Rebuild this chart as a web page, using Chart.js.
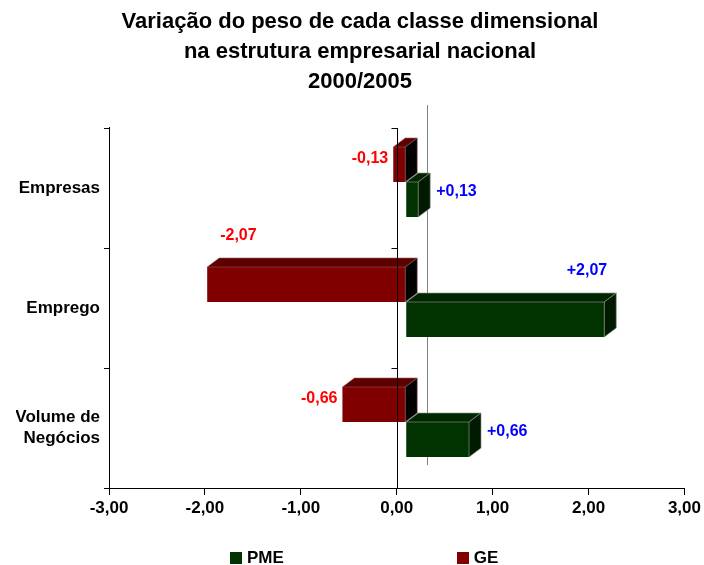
<!DOCTYPE html>
<html>
<head>
<meta charset="utf-8">
<script src="https://cdn.jsdelivr.net/npm/chart.js@4.4.1/dist/chart.umd.min.js"></script>
<style>
  body { margin: 0; background: #fff; }
  #wrap { position: relative; width: 704px; height: 565px; overflow: hidden; }
  #legend { position: absolute; left: 230px; top: 548px; display: flex; gap: 173px;
            font: bold 17px "Liberation Sans", Arial, sans-serif; color: #000; }
  #legend span.item { display: flex; align-items: center; }
  #legend span.box { display: inline-block; width: 12px; height: 12px; margin-right: 5px; }
</style>
</head>
<body>
<div id="wrap">
  <canvas id="chart" width="704" height="565"></canvas>
  <div id="legend"></div>
</div>
<script>
// data
const categories = [['Empresas'], ['Emprego'], ['Volume de', 'Negócios']];
const geValues = [-0.13, -2.07, -0.66];
const pmeValues = [0.13, 2.07, 0.66];
const xTicks = [-3, -2, -1, 0, 1, 2, 3];
const titleLines = ['Variação do peso de cada classe dimensional', 'na estrutura empresarial nacional', '2000/2005'];

// 3d look
const DX = 12, DY = -9;      // depth of each bar
const SHIFT_X = 9, SHIFT_Y = -6;  // front faces sit a bit off the axis
const faceColors = {
  GE:  { front: '#800000', top: '#5c0000', side: '#000000', label: '#ff0000', edge: 'rgba(150,90,90,0.7)' },
  PME: { front: '#003300', top: '#002600', side: '#001a00', label: '#0000ff', edge: 'rgba(140,150,140,0.8)' }
};

Chart.defaults.font.family = '"Liberation Sans", Arial, sans-serif';
Chart.defaults.color = '#000';

const fmt = v => v.toFixed(2).replace('.', ',');

const threeD = {
  id: 'threeD',
  beforeDatasetsDraw(chart) {
    const ctx = chart.ctx;
    const x0 = chart.scales.x.getPixelForValue(0);
    const a = chart.chartArea;
    // back wall zero line
    ctx.save();
    ctx.strokeStyle = '#808080';
    ctx.lineWidth = 1;
    ctx.beginPath();
    ctx.moveTo(Math.round(x0 + 30) + 0.5, a.top - 23);
    ctx.lineTo(Math.round(x0 + 30) + 0.5, a.bottom - 23);
    ctx.stroke();
    ctx.restore();
    ctx.save();
    ctx.translate(SHIFT_X, SHIFT_Y);
  },
  afterDatasetsDraw(chart) {
    const ctx = chart.ctx;
    chart.data.datasets.forEach((ds, di) => {
      const col = faceColors[ds.label];
      chart.getDatasetMeta(di).data.forEach(bar => {
        const left = Math.min(bar.x, bar.base), right = Math.max(bar.x, bar.base);
        const top = bar.y - bar.height / 2, bottom = bar.y + bar.height / 2;
        ctx.lineWidth = 0.8;
        ctx.strokeStyle = col.edge;
        // top face
        ctx.fillStyle = col.top;
        ctx.beginPath();
        ctx.moveTo(left, top);
        ctx.lineTo(left + DX, top + DY);
        ctx.lineTo(right + DX, top + DY);
        ctx.lineTo(right, top);
        ctx.closePath();
        ctx.fill();
        ctx.stroke();
        // side face
        ctx.fillStyle = col.side;
        ctx.beginPath();
        ctx.moveTo(right, top);
        ctx.lineTo(right + DX, top + DY);
        ctx.lineTo(right + DX, bottom + DY);
        ctx.lineTo(right, bottom);
        ctx.closePath();
        ctx.fill();
        ctx.stroke();
      });
    });
    ctx.restore();

    // zero line sits in front of the bars
    const x0 = Math.round(chart.scales.x.getPixelForValue(0)) + 0.5;
    const a = chart.chartArea;
    ctx.save();
    ctx.strokeStyle = '#000';
    ctx.lineWidth = 1;
    ctx.beginPath();
    ctx.moveTo(x0, a.top);
    ctx.lineTo(x0, a.bottom + 1);
    const yScale = chart.scales.y;
    for (let i = 0; i <= categories.length; i++) {
      const yy = Math.round(yScale.getPixelForValue(i - 0.5)) + 0.5;
      ctx.moveTo(x0 - 6, yy);
      ctx.lineTo(x0, yy);
    }
    ctx.stroke();

    // value labels
    ctx.font = 'bold 16px "Liberation Sans", Arial, sans-serif';
    ctx.textBaseline = 'middle';
    chart.data.datasets.forEach((ds, di) => {
      const col = faceColors[ds.label];
      ctx.fillStyle = col.label;
      chart.getDatasetMeta(di).data.forEach((bar, i) => {
        const v = ds.data[i];
        const txt = (v > 0 ? '+' : '') + fmt(v);
        const left = Math.min(bar.x, bar.base) + SHIFT_X, right = Math.max(bar.x, bar.base) + SHIFT_X;
        const top = bar.y - bar.height / 2 + SHIFT_Y, cy = bar.y + SHIFT_Y;
        if (Math.abs(v) > 1) {
          const ly = top + DY - 22;
          if (v < 0) { ctx.textAlign = 'left'; ctx.fillText(txt, left + 13, ly); }
          else { ctx.textAlign = 'right'; ctx.fillText(txt, right + 3, ly); }
        } else if (v < 0) {
          ctx.textAlign = 'right';
          ctx.fillText(txt, left - 5, cy - 6);
        } else {
          ctx.textAlign = 'left';
          ctx.fillText(txt, right + DX + 6, cy - 8);
        }
      });
    });
    ctx.restore();
  }
};

const chart = new Chart(document.getElementById('chart'), {
  type: 'bar',
  data: {
    labels: categories,
    datasets: [
      { label: 'GE', data: geValues, backgroundColor: faceColors.GE.front, borderWidth: 0 },
      { label: 'PME', data: pmeValues, backgroundColor: faceColors.PME.front, borderWidth: 0 }
    ]
  },
  options: {
    indexAxis: 'y',
    responsive: false,
    animation: false,
    barPercentage: 1,
    categoryPercentage: 70 / 120,
    layout: { padding: { top: 0, left: 16, right: 0, bottom: 45 } },
    plugins: {
      legend: { display: false },
      tooltip: { enabled: false },
      title: {
        display: true,
        text: titleLines,
        color: '#000',
        font: { size: 22, weight: 'bold', lineHeight: 30 / 22 },
        padding: { top: 7, bottom: 31 }
      }
    },
    scales: {
      x: {
        min: -3,
        max: 3,
        afterBuildTicks: s => { s.ticks = xTicks.map(v => ({ value: v })); },
        afterFit: s => { s.height = 32; },
        ticks: {
          callback: v => fmt(v),
          font: { size: 17, weight: 'bold' },
          color: '#000',
          padding: 3,
          maxRotation: 0
        },
        grid: { drawOnChartArea: false, tickLength: 7, tickColor: '#000' },
        border: { color: '#000', width: 1 }
      },
      y: {
        afterFit: s => { s.width = 93; },
        ticks: {
          font: { size: 17, weight: 'bold' },
          color: '#000',
          padding: 4
        },
        grid: { drawOnChartArea: false, tickLength: 5, tickColor: '#000', offset: true },
        border: { color: '#000', width: 1 }
      }
    }
  },
  plugins: [threeD]
});

// legend built from the datasets, PME first as in the original
const legend = document.getElementById('legend');
chart.data.datasets.slice().reverse().forEach(ds => {
  const item = document.createElement('span');
  item.className = 'item';
  const box = document.createElement('span');
  box.className = 'box';
  box.style.background = ds.backgroundColor;
  item.appendChild(box);
  item.appendChild(document.createTextNode(ds.label));
  legend.appendChild(item);
});
</script>
</body>
</html>
